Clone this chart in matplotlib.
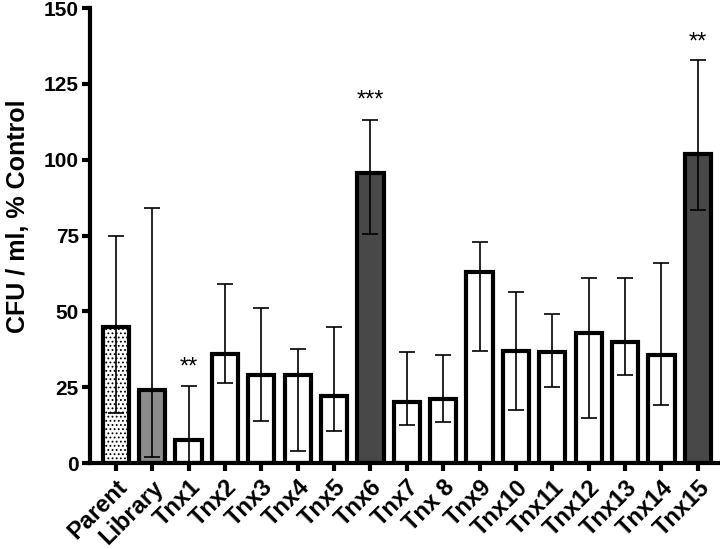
import matplotlib
matplotlib.use("Agg")
import matplotlib.pyplot as plt
import numpy as np

plt.rcParams["font.family"] = ["Liberation Sans", "DejaVu Sans"]
plt.rcParams["hatch.linewidth"] = 0.8

# 데이터
labels = ["Parent", "Library", "Tnx1", "Tnx2", "Tnx3", "Tnx4", "Tnx5", "Tnx6",
          "Tnx7", "Tnx 8", "Tnx9", "Tnx10", "Tnx11", "Tnx12", "Tnx13", "Tnx14", "Tnx15"]
means = [45, 24, 7.5, 36, 29, 29, 22, 95.5, 20, 21, 63, 37, 36.5, 43, 40, 35.5, 102]
err_upper = [74.8, 84, 25.5, 59, 51, 37.5, 45, 113, 36.5, 35.5, 73, 56.5, 49, 61, 61, 66, 133]
err_lower = [16.5, 2, 0, 26.5, 14, 4, 10.5, 75.5, 12.5, 13.5, 37, 17.5, 25, 15, 29, 19, 83.5]
stars = {2: ("**", 28), 7: ("***", 116), 16: ("**", 135)}

fills = ["white", "#8c8c8c"] + ["white"] * 5 + ["#484848"] + ["white"] * 8 + ["#484848"]

x = np.arange(len(labels))
means = np.array(means)
yerr = [means - np.array(err_lower), np.array(err_upper) - means]

fig = plt.figure(figsize=(7.2, 5.49), dpi=100)
ax = fig.add_axes([0.125, 0.1566, 0.872, 0.8288])

bars = ax.bar(x, means, width=0.72, color=fills, edgecolor="black", linewidth=3, zorder=2)
bars[0].set_hatch("....")
ax.errorbar(x, means, yerr=yerr, fmt="none", ecolor="black", elinewidth=1.2,
            capsize=6, capthick=1.2, zorder=3)

for i, (s, y) in stars.items():
    ax.text(x[i], y, s, ha="center", va="bottom", fontsize=17)

ax.set_xlim(-0.71, 16.55)
ax.set_ylim(0, 150)
ax.set_yticks([0, 25, 50, 75, 100, 125, 150])
ax.set_xticks(x)
ax.set_xticklabels(labels, rotation=45, ha="right", rotation_mode="anchor",
                   fontsize=17, fontweight="bold")
ax.tick_params(axis="y", labelsize=15, width=3, length=6, pad=2)
ax.tick_params(axis="x", width=3, length=6, pad=3)
for lab in ax.get_yticklabels():
    lab.set_fontweight("bold")
ax.set_ylabel("CFU / ml, % Control", fontsize=18, fontweight="bold",
              va="center", ha="center")
ax.yaxis.set_label_coords(-0.114, 0.543)

for side in ["top", "right"]:
    ax.spines[side].set_visible(False)
for side in ["left", "bottom"]:
    ax.spines[side].set_linewidth(3)

plt.savefig("out.png", dpi=100)
